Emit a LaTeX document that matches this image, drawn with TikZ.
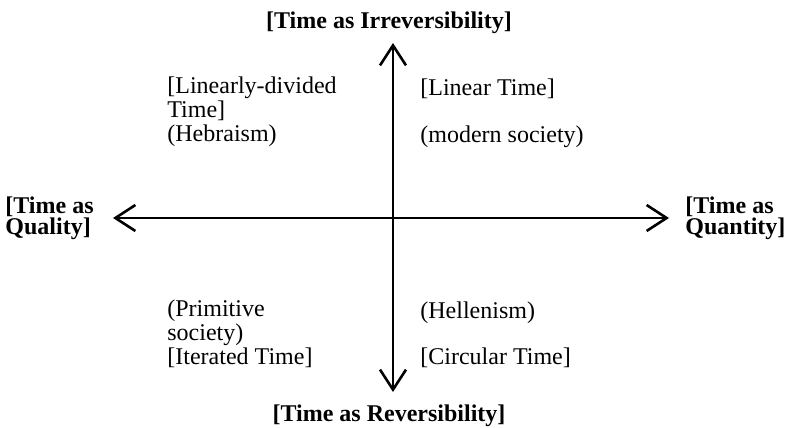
\documentclass[tikz,border=0pt]{standalone}
\usepackage{fontspec}
\setmainfont{Liberation Serif}
\usetikzlibrary{arrows.meta}
\begin{document}
\begin{tikzpicture}[x=0.5pt, y=-0.5pt,
    axis/.style={line width=1.3pt,
      {Straight Barb[length=10pt,width=13pt,line width=1.3pt]}-{Straight Barb[length=10pt,width=13pt,line width=1.3pt]}},
    lbl/.style={anchor=base west, inner sep=0pt, align=left,
      font=\fontsize{12}{11.8}\selectfont},
    ttl/.style={anchor=base west, inner sep=0pt, align=left,
      font=\fontsize{12}{10.5}\selectfont\bfseries}]
    \useasboundingbox (0,0) rectangle (787,428);

    \coordinate (west) at (113,218);
    \coordinate (east) at (669,218);
    \coordinate (north) at (393,43);
    \coordinate (south) at (393,392);

    \draw[axis] (west) -- (east);
    \draw[axis] (south) -- (north);

    % multi-line nodes sit on the baseline of their last line
    \node[ttl, anchor=base] (irrev) at (389,28) {[Time as Irreversibility]};
    \node[ttl, anchor=base] (rev) at (389,421) {[Time as Reversibility]};
    \node[ttl] (quality) at (5,234) {[Time as\\Quality]};
    \node[ttl] (quantity) at (685,234) {[Time as\\Quantity]};

    \node[lbl] (lindiv) at (167,141) {[Linearly-divided\\Time]\\(Hebraism)};
    \node[lbl] (linear) at (420,95) {[Linear Time]};
    \node[lbl] (modern) at (420,142) {(modern society)};
    \node[lbl] (primitive) at (167,364) {(Primitive\\society)\\[0pt][Iterated Time]};
    \node[lbl] (hellen) at (420,318) {(Hellenism)};
    \node[lbl] (circular) at (420,364) {[Circular Time]};
\end{tikzpicture}
\end{document}
